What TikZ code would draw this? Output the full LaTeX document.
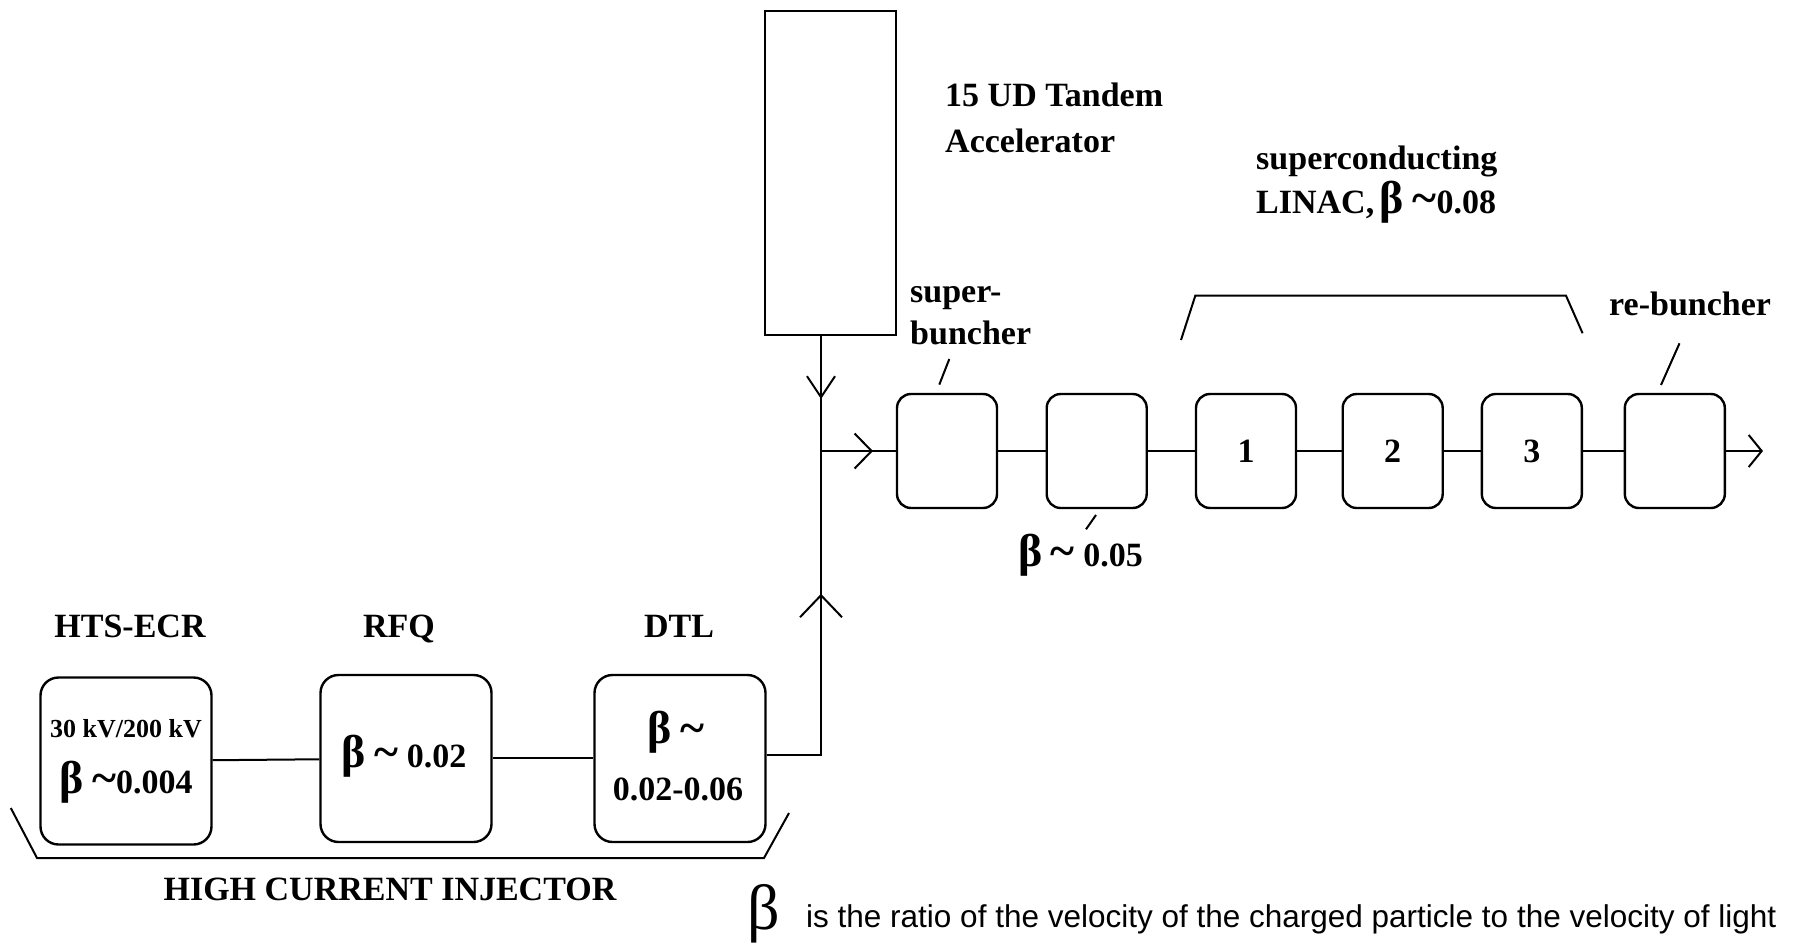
\documentclass[tikz,border=0pt]{standalone}
\usepackage{fontspec}
\setmainfont{Liberation Serif}
\newfontfamily\capfont{Liberation Sans}
\usetikzlibrary{arrows.meta,decorations.markings}
\newcommand\mybeta{{\fontsize{46}{46}\selectfont β}}
\newcommand\mytilde{{\fontsize{46}{46}\selectfont\textasciitilde}}
\begin{document}
\begin{tikzpicture}[x=1pt,y=-1pt,
  ln/.style={line width=2pt},
  sbx/.style={draw, line width=2.4pt, rounded corners=14pt, minimum width=100pt, minimum height=114pt, inner sep=0pt, font=\fontsize{34}{40}\selectfont\bfseries},
  bbx/.style={draw, line width=2.4pt, rounded corners=18pt, minimum width=171pt, minimum height=167pt, inner sep=0pt},
  lbl/.style={inner sep=0pt, anchor=base west, font=\fontsize{34}{40}\selectfont\bfseries},
  clbl/.style={lbl, anchor=base},
  midbarb/.style n args={3}{decoration={markings, mark=at position #1 with {\arrow[line width=2pt]{Straight Barb[length=#2,width=#3]}}}, postaction=decorate}
]
\useasboundingbox (0,0) rectangle (1796,947);

% boxes
\node[draw, line width=2.4pt, minimum width=131pt, minimum height=324pt, inner sep=0pt] (tandem) at (830.5,172.8) {};
\node[sbx] (sb) at (947,451) {};
\node[sbx] (b2) at (1096.7,451) {};
\node[sbx] (l1) at (1246,451) {1};
\node[sbx] (l2) at (1392.7,451) {2};
\node[sbx] (l3) at (1531.8,451) {3};
\node[sbx] (rb) at (1674.8,451) {};
\node[bbx] (hts) at (126,761) {};
\node[bbx] (rfq) at (406,758.5) {};
\node[bbx] (dtl) at (680,758.5) {};

\coordinate (tb) at ([xshift=-9.5pt]tandem.south);
\coordinate (J) at (tb |- sb.west);
\coordinate (end) at (1763,451);

% connectors
\draw[ln, midbarb={63pt}{21pt}{28pt}] (tb) -- (J);
\draw[ln, midbarb={215pt}{22pt}{42pt}] ([yshift=4pt]dtl.east) -| (J);
\draw[ln, midbarb={52pt}{17pt}{35pt}] (J) -- (sb.west);
\draw[ln] (sb) -- (b2) (b2) -- (l1) (l1) -- (l2) (l2) -- (l3) (l3) -- (rb);
\draw[ln, -{Straight Barb[length=13pt,width=32pt]}] (rb) -- (end);
\draw[ln] (hts) -- (rfq);
\draw[ln] ([yshift=1pt]rfq.east) -- ([yshift=1pt]dtl.west);

% brackets and ticks
\draw[ln] (10.8,808) -- (37,858) -- (764,858) -- (789,813);
\draw[ln] (1181,340) -- (1195.3,295.7) -- (1566,295.7) -- (1582.6,333.3);
\draw[ln] (949.3,359) -- (939.3,384.6);
\draw[ln] (1096,515) -- (1086,529.3);
\draw[ln] (1679.5,343.3) -- (1661,385);

% labels
\node[lbl] (t1) at (945,107) {15 UD Tandem};
\node[lbl] (t2) at (945,153) {Accelerator};
\node[lbl] (s1) at (910,302) {super-};
\node[lbl] (s2) at (910,344) {buncher};
\node[lbl] (c1) at (1256,169) {superconducting};
\node[lbl] (c2) at (1256,213) {LINAC,\,\mybeta\ \mytilde0.08};
\node[lbl] (r1) at (1609,315) {re-buncher};
\node[lbl] (bb) at (1018,566) {\mybeta\ \mytilde\ 0.05};

\node[clbl] (hl) at (130,637) {HTS-ECR};
\node[clbl] (rl) at (399,637) {RFQ};
\node[clbl] (dl) at (679,637) {DTL};
\node[clbl, font=\fontsize{26}{30}\selectfont\bfseries] (hv) at (126,737) {30 kV/200 kV};
\node[clbl] (hb) at (126,793) {\mybeta\ \mytilde0.004};
\node[clbl] (rbt) at (404,767) {\mybeta\ \mytilde\ 0.02};
\node[clbl] (db1) at (676,743) {\mybeta\ \mytilde};
\node[clbl] (db2) at (678,800) {0.02-0.06};
\node[clbl] (inj) at (390,900) {HIGH CURRENT INJECTOR};

\node[inner sep=0pt, anchor=base west, font=\fontsize{64}{64}\selectfont] (cb) at (747,929) {β};
\node[inner sep=0pt, anchor=base west, font=\capfont\fontsize{31.5}{36}\selectfont] (ct) at (806,927) {is the ratio of the velocity of the charged particle to the velocity of light};
\end{tikzpicture}
\end{document}
